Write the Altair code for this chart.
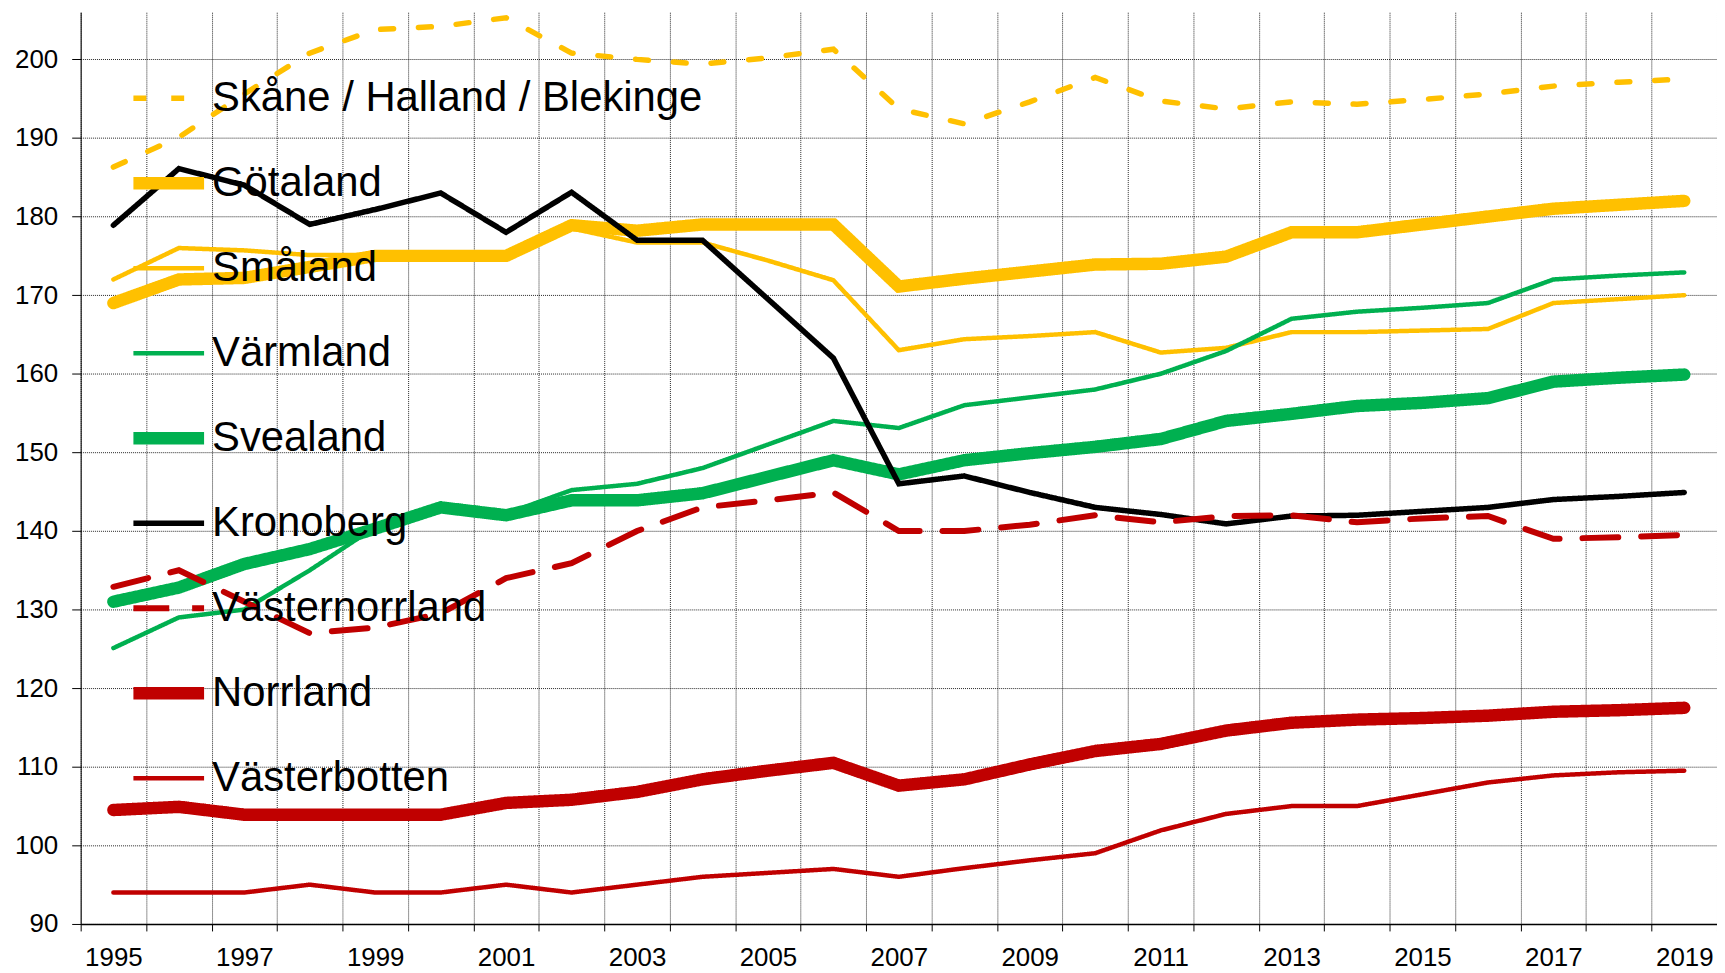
import altair as alt
import pandas as pd

years = list(range(1995, 2020))

names = ["Skåne / Halland / Blekinge", "Götaland", "Småland", "Värmland", "Svealand",
         "Kronoberg", "Västernorrland", "Norrland", "Västerbotten"]

skane = [186.3, 190.1, 195.6, 200.8, 203.8, 204.2, 205.3, 200.8, 200.0, 199.4, 200.2, 201.3, 193.7,
         191.8, 194.6, 197.7, 194.7, 193.7, 194.6, 194.3, 194.9, 195.6, 196.6, 197.1, 197.5]
gotaland = [169.0, 172.0, 172.2, 173.6, 175.0, 175.0, 175.0, 178.9, 178.2, 179.0, 179.0, 179.0, 171.1,
            172.1, 173.0, 173.9, 174.0, 174.9, 178.0, 178.0, 179.0, 180.0, 181.0, 181.5, 182.0]
smaland = [172.0, 176.0, 175.7, 175.1, 175.1, 175.0, 175.0, 178.5, 176.7, 176.7, 174.4, 171.9, 163.0,
           164.4, 164.8, 165.3, 162.7, 163.3, 165.3, 165.3, 165.5, 165.7, 169.0, 169.5, 170.0]
varmland = [125.1, 129.0, 130.0, 135.0, 140.5, 143.2, 142.2, 145.2, 146.0, 148.0, 151.0, 154.0, 153.1,
            156.0, 157.0, 158.0, 160.0, 162.9, 167.0, 167.9, 168.4, 169.0, 172.0, 172.5, 172.9]
svealand = [131.0, 132.8, 135.8, 137.7, 140.3, 143.0, 142.0, 143.9, 143.9, 144.8, 146.9, 149.0, 147.2,
            149.0, 149.9, 150.7, 151.7, 154.0, 154.9, 155.9, 156.3, 156.9, 159.0, 159.5, 159.9]
kronoberg = [178.9, 186.1, 184.0, 179.0, 180.9, 183.0, 178.0, 183.1, 177.0, 177.0, 169.5, 162.0, 146.0,
             147.0, 144.9, 143.0, 142.1, 140.9, 141.9, 142.0, 142.5, 143.0, 144.0, 144.4, 144.9]
vasternorrland = [132.9, 135.0, 131.0, 127.0, 127.7, 129.5, 134.0, 135.9, 140.0, 143.0, 143.9, 144.9, 140.0,
                  140.0, 140.8, 142.0, 141.1, 141.9, 142.0, 141.1, 141.6, 141.9, 139.0, 139.2, 139.5]
norrland = [104.5, 104.9, 103.9, 103.9, 103.9, 103.9, 105.4, 105.8, 106.8, 108.4, 109.5, 110.5, 107.6,
            108.4, 110.3, 112.0, 112.9, 114.6, 115.6, 116.0, 116.2, 116.5, 117.0, 117.2, 117.5]
vasterbotten = [94.0, 94.0, 94.0, 95.0, 94.0, 94.0, 95.0, 94.0, 95.0, 96.0, 96.5, 97.0, 96.0,
                97.1, 98.1, 99.0, 101.9, 104.0, 105.0, 105.0, 106.5, 108.0, 108.9, 109.3, 109.5]

series_values = [skane, gotaland, smaland, varmland, svealand, kronoberg, vasternorrland, norrland, vasterbotten]

colors = ["#FFC000", "#FFC000", "#FFC000", "#00B050", "#00B050", "#000000", "#C00000", "#C00000", "#C00000"]
widths = [5.5, 12.5, 4.5, 4.5, 12.5, 5.5, 6, 12.5, 4.5]
dashes = [[13, 25], [1, 0], [1, 0], [1, 0], [1, 0], [1, 0], [36, 23], [1, 0], [1, 0]]

rows = []
for name, vals in zip(names, series_values):
    for yr, v in zip(years, vals):
        rows.append({"year": yr, "value": v, "series": name})
df = pd.DataFrame(rows)

FONT = "Liberation Sans"

legend = alt.Legend(
    orient="none", legendX=46.5, legendY=44, title=None, symbolType="stroke",
    symbolSize=5041, clipHeight=85, rowPadding=0.4, padding=0,
    labelFontSize=42, labelFont=FONT, labelColor="black", labelLimit=1000,
    labelOffset=1.5, symbolOffset=0,
)

chart = alt.Chart(df).mark_line(strokeCap="round").encode(
    x=alt.X("year:O", bandPosition=0.5,
            scale=alt.Scale(type="band", paddingInner=0, paddingOuter=0),
            axis=alt.Axis(title=None, tickBand="extent", labelAngle=0,
                          labelExpr="datum.value % 2 == 1 ? datum.label : ''",
                          labelOverlap=False, labelFontSize=26, labelFont=FONT,
                          labelColor="black", tickColor="black", tickSize=7,
                          labelPadding=14, domainColor="black", domainWidth=1.5,
                          grid=True, gridColor="#000000", gridOpacity=0.85,
                          gridDash=[1, 1], gridWidth=1)),
    y=alt.Y("value:Q",
            scale=alt.Scale(domain=[90, 206], nice=False, zero=False),
            axis=alt.Axis(title=None, values=list(range(90, 201, 10)),
                          labelFontSize=26, labelFont=FONT, labelColor="black",
                          tickColor="black", tickSize=9, labelPadding=14,
                          domainColor="black", domainWidth=1,
                          grid=True, gridColor="#000000", gridOpacity=0.85,
                          gridDash=[1, 1], gridWidth=1)),
    color=alt.Color("series:N", scale=alt.Scale(domain=names, range=colors), legend=legend),
    strokeDash=alt.StrokeDash("series:N", scale=alt.Scale(domain=names, range=dashes), legend=legend),
    strokeWidth=alt.StrokeWidth("series:N",
                                scale=alt.Scale(type="ordinal", domain=names, range=widths),
                                legend=legend),
).properties(
    width=1644, height=916,
    padding={"left": 73, "top": 2, "right": 0, "bottom": 45},
    autosize=alt.AutoSizeParams(type="none"),
    background="white",
).configure_view(strokeWidth=0)

chart.save("out.html", embed_options={"renderer": "svg", "actions": False})
